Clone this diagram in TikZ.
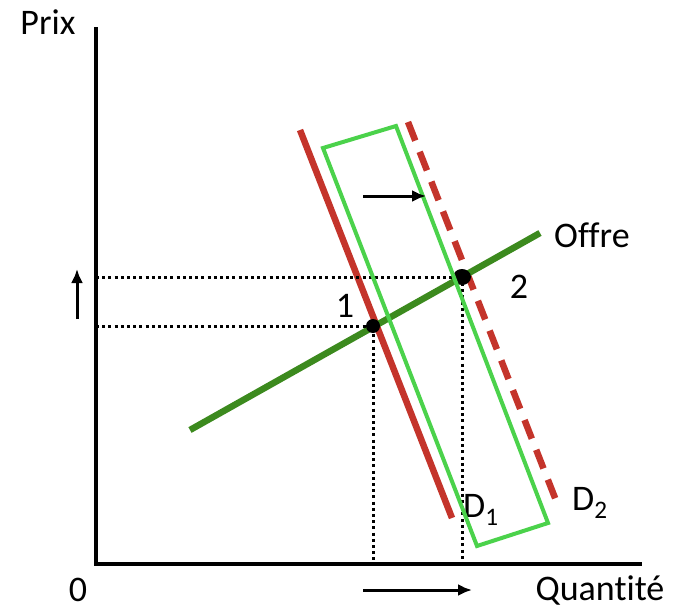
\documentclass[tikz,border=0pt]{standalone}
\usepackage{fontspec}
\setmainfont{Carlito}[Ligatures=NoCommon]
\usetikzlibrary{arrows.meta,positioning,calc}
\definecolor{demred}{HTML}{C4342B}
\definecolor{offgreen}{HTML}{3C8A1E}
\definecolor{boxgreen}{HTML}{4BD24B}
\tikzset{axis/.style={line width=3.5pt,black},demline/.style={line width=6.5pt,demred},offline/.style={line width=6.5pt,offgreen},shiftbox/.style={draw=boxgreen,line width=4pt},guide/.style={line width=3pt,dash pattern=on 3pt off 3.2pt},lbl/.style={font=\fontsize{36}{40}\selectfont,inner sep=0pt},move/.style={line width=3pt,-{Latex[length=14pt,width=12pt]}},eqpt/.style={fill=black}}
\begin{document}
\begin{tikzpicture}[x=1pt,y=-1pt]
\useasboundingbox (0,0) rectangle (686,608);
% axes
\coordinate (top) at (96,27);
\coordinate (origin) at (96,564);
\coordinate (right) at (642,564);
\draw[axis] (top) -- (origin) -- (right);
\node[lbl] (prix) at (48,22) {Prix};
\node[lbl] (zero) at (78,590) {0};
\node[lbl] (quant) at (600,590) {Quantité};
% demand and supply
\coordinate (d1a) at (300,130);
\coordinate (d1b) at (452,518);
\coordinate (d2a) at (408,122);
\coordinate (d2b) at (557,503);
\coordinate (oa) at (190,430);
\coordinate (ob) at (540,233);
\draw[demline] (d1a) -- (d1b);
\draw[demline,dash pattern=on 20pt off 12pt] (d2a) -- (d2b);
\draw[offline] (oa) -- (ob);
\node[lbl,anchor=west] (offre) at (554,235) {Offre};
\node[lbl,anchor=west] (dlab1) at (463,510) {D\textsubscript{1}};
\node[lbl,anchor=west] (dlab2) at (572,503) {D\textsubscript{2}};
% equilibria
\coordinate (e1) at (373,326);
\coordinate (e2) at (462,277);
\coordinate (q1) at (e1 |- origin);
\coordinate (q2) at (e2 |- origin);
\coordinate (p1) at (e1 -| origin);
\coordinate (p2) at (e2 -| origin);
\draw[guide] (p1) -- (e1) -- (q1);
\draw[guide] (p2) -- (e2) -- (q2);
\fill[eqpt] (e1) circle (7pt);
\fill[eqpt] (e2) ellipse (9pt and 8pt);
\node[lbl] (n1) at (345,306) {1};
\node[lbl] (n2) at (519,287) {2};
% shift box
\draw[shiftbox] (323,148) -- (396,126) -- (548,523) -- (477,546) -- cycle;
% arrows
\coordinate (ma) at (363,196);
\coordinate (mb) at (426,196);
\draw[move] (ma) -- (mb);
\coordinate (ua) at (77,319);
\coordinate (ub) at (77,269);
\draw[move] (ua) -- (ub);
\coordinate (ra) at (363,590);
\coordinate (rb) at (472,590);
\draw[move] (ra) -- (rb);
\end{tikzpicture}
\end{document}
